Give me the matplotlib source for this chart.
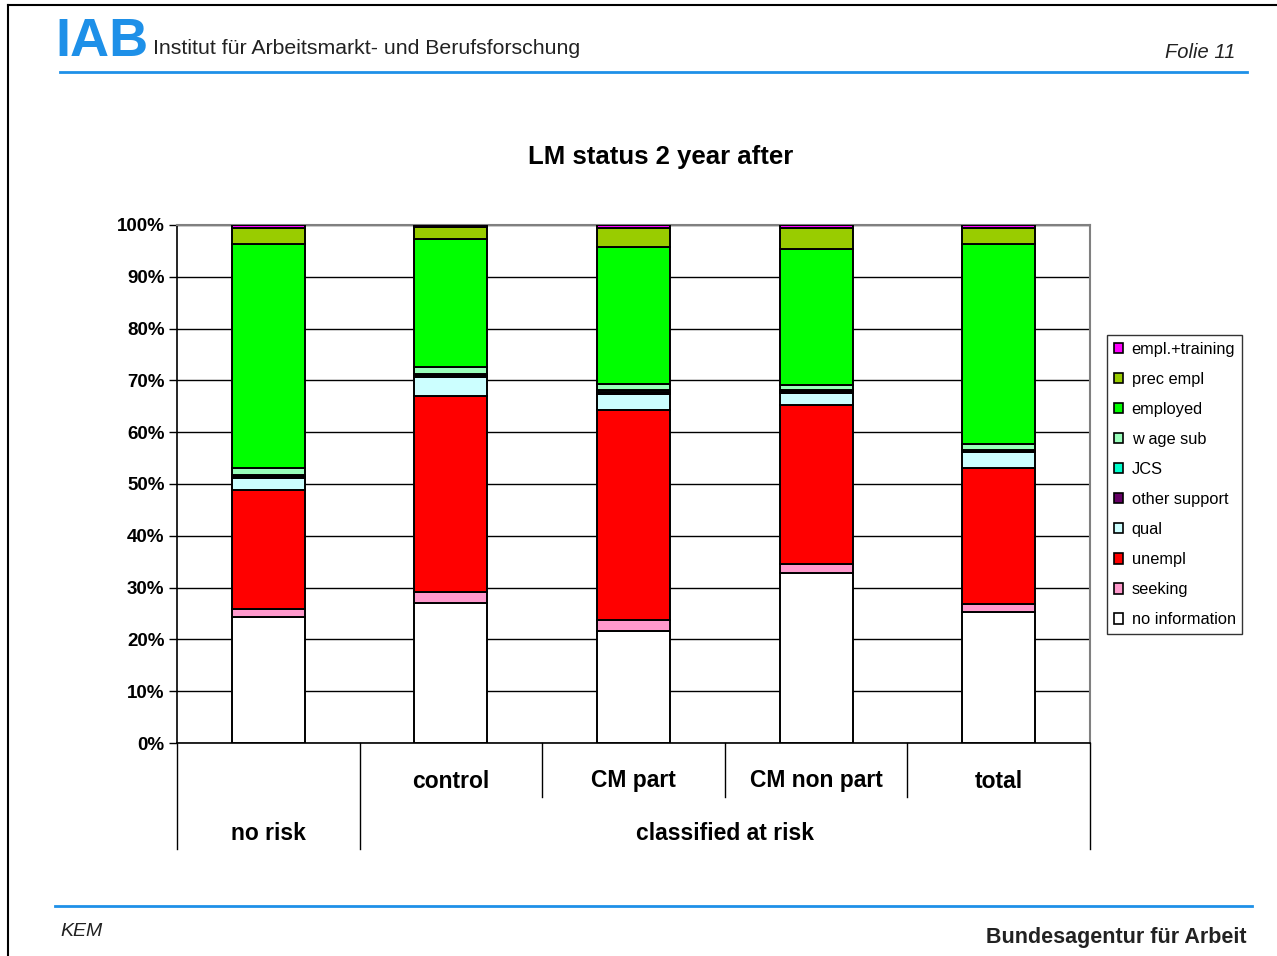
import matplotlib
matplotlib.use("Agg")
import matplotlib.pyplot as plt
import matplotlib.transforms as mtransforms
from matplotlib.lines import Line2D
import numpy as np

plt.rcParams['font.family'] = ['Liberation Sans', 'DejaVu Sans']

# ---- data ----
categories = ["no risk", "control", "CM part", "CM non part", "total"]
no_information = [24.3, 27.1, 21.6, 32.8, 25.3]
seeking = [1.6, 2.1, 2.1, 1.8, 1.5]
unempl = [22.9, 37.8, 40.6, 30.7, 26.3]
qual = [2.4, 3.6, 3.1, 2.3, 3.0]
other_support = [0.3, 0.4, 0.4, 0.3, 0.3]
jcs = [0.2, 0.2, 0.3, 0.3, 0.2]
wage_sub = [1.3, 1.3, 1.3, 0.9, 1.1]
employed = [43.3, 24.8, 26.4, 26.3, 38.6]
prec_empl = [3.2, 2.4, 3.7, 4.1, 3.2]
empl_training = [0.5, 0.3, 0.5, 0.5, 0.5]

series_names = ["no information", "seeking", "unempl", "qual", "other support",
                "JCS", "w age sub", "employed", "prec empl", "empl.+training"]
series_values = [no_information, seeking, unempl, qual, other_support,
                 jcs, wage_sub, employed, prec_empl, empl_training]
series_colors = ["#FFFFFF", "#FF99CC", "#FF0000", "#CCFFFF", "#660066",
                 "#00FFCC", "#99FFBB", "#00FF00", "#99CC00", "#FF00FF"]
yticks = [0, 10, 20, 30, 40, 50, 60, 70, 80, 90, 100]

W, H = 1277, 956
fig = plt.figure(figsize=(W / 100, H / 100), dpi=100)
fig.patch.set_facecolor("white")

def fx(px):
    return px / W

def fy(py):
    return 1 - py / H

ax = fig.add_axes([fx(177), fy(743), fx(1090) - fx(177), fy(225) - fy(743)])
x = np.arange(len(categories))
bottom = np.zeros(len(categories))
handles = []
for name, vals, col in zip(series_names, series_values, series_colors):
    vals = np.array(vals)
    b = ax.bar(x, vals, width=0.4, bottom=bottom, color=col, edgecolor="black",
               linewidth=1.4, label=name, zorder=3)
    handles.append(b)
    bottom += vals

ax.set_xlim(-0.5, len(categories) - 0.5)
ax.set_ylim(0, 100)
ax.set_yticks(yticks)
ax.set_yticklabels([f"{t}%" for t in yticks], fontsize=13.5, fontweight="bold")
ax.set_xticks([])
ax.yaxis.grid(True, color="black", linewidth=1.0, zorder=0)
ax.set_axisbelow(True)
ax.tick_params(axis="y", direction="out", length=6, width=1, pad=3)
for s in ["top", "right"]:
    ax.spines[s].set_color("#808080")
    ax.spines[s].set_linewidth(1.5)
for s in ["left", "bottom"]:
    ax.spines[s].set_color("black")
    ax.spines[s].set_linewidth(1.2)

# category label area
trans = mtransforms.blended_transform_factory(ax.transData, fig.transFigure)
sep_full = [-0.5, 0.5, 4.5]
sep_short = [1.5, 2.5, 3.5]
for s in sep_full:
    fig.add_artist(Line2D([s, s], [fy(743), fy(849)], transform=trans, color="black", linewidth=1))
for s in sep_short:
    fig.add_artist(Line2D([s, s], [fy(743), fy(797)], transform=trans, color="black", linewidth=1))
for i in range(1, 5):
    fig.text(x[i], fy(781), categories[i], transform=trans, ha="center", va="center",
             fontsize=16.5, fontweight="bold")
fig.text(x[0], fy(833), categories[0], transform=trans, ha="center", va="center",
         fontsize=16.5, fontweight="bold")
fig.text(2.5, fy(833), "classified at risk", transform=trans, ha="center", va="center",
         fontsize=16.5, fontweight="bold")

# title
fig.text(fx(661), fy(157), "LM status 2 year after", ha="center", va="center",
         fontsize=18.5, fontweight="bold")

# legend
leg = fig.legend(handles[::-1], series_names[::-1], loc="upper left",
                 bbox_to_anchor=(fx(1107), fy(335)), borderaxespad=0,
                 fontsize=11.8, frameon=True, fancybox=False, edgecolor="black",
                 handlelength=0.6, handleheight=0.6, handletextpad=0.5,
                 labelspacing=0.92, borderpad=0.4)
leg.get_frame().set_linewidth(1.0)
for p in leg.get_patches():
    p.set_linewidth(1.2)

# slide frame
fig.add_artist(Line2D([fx(8), fx(8)], [fy(5), 0], color="black", linewidth=1.5))
fig.add_artist(Line2D([fx(8), 1], [fy(5), fy(5)], color="black", linewidth=1.5))

blue = "#1E90E8"
# header
fig.text(fx(55), fy(42), "IAB", ha="left", va="center", fontsize=39,
         fontweight="heavy", color=blue)
fig.text(fx(153), fy(48), "Institut für Arbeitsmarkt- und Berufsforschung",
         ha="left", va="center", fontsize=15.3, color="#222222")
fig.text(fx(1235), fy(52), "Folie 11", ha="right", va="center", fontsize=14.5,
         style="italic", color="#222222")
fig.add_artist(Line2D([fx(60), fx(1247)], [fy(72), fy(72)], color=blue, linewidth=2))

# footer
fig.add_artist(Line2D([fx(55), fx(1252)], [fy(906), fy(906)], color=blue, linewidth=2))
fig.text(fx(60), fy(932), "KEM", ha="left", va="center", fontsize=14,
         style="italic", color="#222222")
fig.text(fx(1247), fy(937), "Bundesagentur für Arbeit", ha="right", va="center",
         fontsize=15.5, fontweight="bold", color="#222222")

fig.savefig("out.png", dpi=100)
